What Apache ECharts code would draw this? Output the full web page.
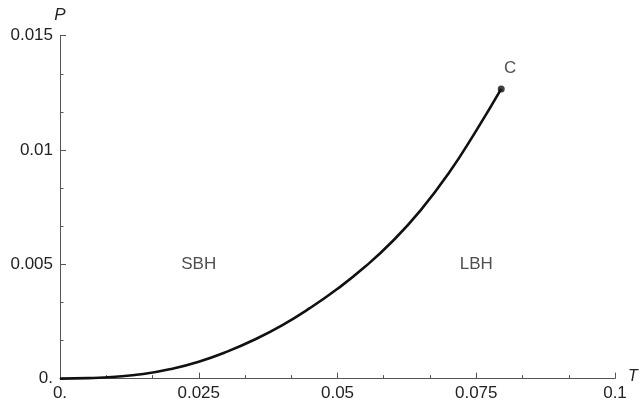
<!DOCTYPE html>
<html>
<head>
<meta charset="utf-8">
<script src="https://cdn.jsdelivr.net/npm/echarts@6/dist/echarts.min.js"></script>
<style>
html,body{margin:0;padding:0;background:#fff;}
#c{width:640px;height:410px;}
</style>
</head>
<body>
<div id="c"></div>
<script>
// Coexistence curve data (T, P)
var T = [0, 0.005, 0.01, 0.015, 0.02, 0.025, 0.03, 0.035, 0.04, 0.045, 0.05, 0.055, 0.06, 0.065, 0.07, 0.075, 0.0795];
var P = [0, 0.00002, 0.00008, 0.0002, 0.00042, 0.00074, 0.00117, 0.0017, 0.00233, 0.00308, 0.00393, 0.0049, 0.00603, 0.00737, 0.00897, 0.01085, 0.01267];
// Critical point
var critical = [0.0795, 0.01267];
var criticalLabel = 'C';
// Region labels
var regionNames = ['SBH', 'LBH'];
var regionT = [0.025, 0.075];
var regionP = [0.005, 0.005];
// Axis ticks
var xTicks = [0, 0.025, 0.05, 0.075, 0.1];
var yTicks = [0, 0.005, 0.01, 0.015];

var curve = T.map(function (t, i) { return [t, P[i]]; });
var regions = regionNames.map(function (n, i) { return { name: n, value: [regionT[i], regionP[i]] }; });

function fmt(v) {
  if (Math.abs(v) < 1e-12) return '0.';
  return String(+v.toFixed(4));
}

var font = '"Liberation Sans", Arial, sans-serif';
var axisColor = '#555';
var textColor = '#222';
var fs = 17;

var chart = echarts.init(document.getElementById('c'), null, { renderer: 'canvas' });
chart.setOption({
  animation: false,
  backgroundColor: '#fff',
  grid: { left: 60, right: 25, top: 35.7, bottom: 31.4, containLabel: false, outerBoundsMode: 'none' },
  xAxis: {
    type: 'value',
    min: xTicks[0], max: xTicks[xTicks.length - 1], interval: 0.025,
    name: 'T', nameLocation: 'end', nameGap: 13, nameMoveOverlap: false,
    nameTextStyle: { fontFamily: font, fontSize: 16, fontStyle: 'italic', color: textColor, align: 'left', verticalAlign: 'bottom', padding: [0, 0, -6, 0] },
    axisLine: { show: true, onZero: false, lineStyle: { color: axisColor, width: 1 } },
    axisTick: { show: true, inside: true, length: 6, lineStyle: { color: axisColor } },
    minorTick: { show: true, splitNumber: 3, length: 3.5, lineStyle: { color: axisColor } },
    axisLabel: { formatter: fmt, fontFamily: font, fontSize: fs, color: textColor, margin: 6 },
    splitLine: { show: false }
  },
  yAxis: {
    type: 'value',
    min: yTicks[0], max: yTicks[yTicks.length - 1], interval: 0.005,
    name: 'P', nameLocation: 'end', nameGap: 12, nameMoveOverlap: false,
    nameTextStyle: { fontFamily: font, fontSize: fs, fontStyle: 'italic', color: textColor, align: 'center' },
    axisLine: { show: true, onZero: false, lineStyle: { color: axisColor, width: 1 } },
    axisTick: { show: true, inside: true, length: 6, lineStyle: { color: axisColor } },
    minorTick: { show: true, splitNumber: 3, length: 3.5, lineStyle: { color: axisColor } },
    axisLabel: { formatter: fmt, fontFamily: font, fontSize: fs, color: textColor, margin: 7 },
    splitLine: { show: false }
  },
  series: [
    {
      type: 'line',
      data: curve,
      smooth: true,
      showSymbol: false,
      symbol: 'none',
      lineStyle: { color: '#111', width: 2.6 },
      z: 3
    },
    {
      type: 'scatter',
      data: [critical],
      symbol: 'circle',
      symbolSize: 7,
      itemStyle: { color: '#111' },
      label: {
        show: true, formatter: criticalLabel, position: 'top', offset: [9, -4],
        fontFamily: font, fontSize: fs, color: textColor
      },
      z: 4
    },
    {
      type: 'scatter',
      data: regions,
      symbolSize: 0,
      itemStyle: { color: 'transparent' },
      label: {
        show: true, position: 'inside', formatter: '{b}',
        fontFamily: font, fontSize: fs, color: textColor
      },
      z: 2
    }
  ]
});
</script>
</body>
</html>
